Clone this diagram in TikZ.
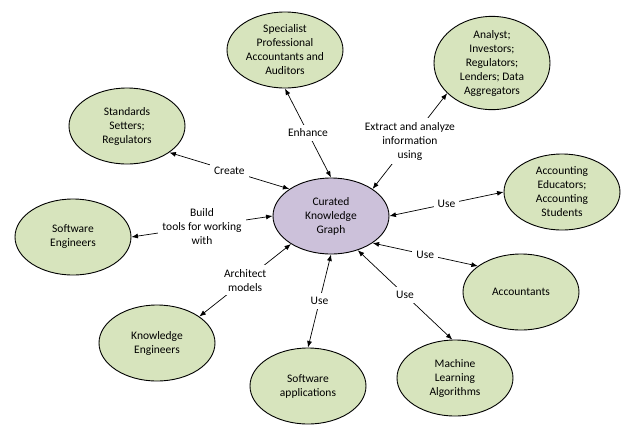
\documentclass[tikz,border=0pt]{standalone}
\usepackage{fontspec}
\setmainfont{Carlito}
\usetikzlibrary{shapes.geometric,arrows.meta}
\definecolor{grn}{HTML}{D7E4BD}
\definecolor{prp}{HTML}{CCC1DA}
\begin{document}
\begin{tikzpicture}[x=1pt,y=-1pt,
  every node/.style={font=\fontsize{11.5}{14}\selectfont, align=center},
  blob/.style={ellipse, draw=black, line width=0.9pt, fill=grn, minimum width=116pt, minimum height=76pt, inner sep=0pt},
  hub/.style={blob, fill=prp},
  conn/.style={{Latex[length=6.5pt,width=5pt]}-{Latex[length=6.5pt,width=5pt]}, line width=0.7pt},
  lbl/.style={fill=white, inner sep=4pt}]
\useasboundingbox (0,0) rectangle (633,440);
\node[hub] (c) at (331,216) {Curated\\Knowledge\\Graph};
\node[blob] (s) at (285,50) {Specialist\\Professional\\Accountants and\\Auditors};
\node[blob] (a) at (492,63) {Analyst;\\Investors;\\Regulators;\\Lenders; Data\\Aggregators};
\node[blob] (st) at (127,126) {Standards\\Setters;\\Regulators};
\node[blob] (se) at (73,237) {Software\\Engineers};
\node[blob] (ed) at (562,192) {Accounting\\Educators;\\Accounting\\Students};
\node[blob] (ac) at (521,292) {Accountants};
\node[blob] (ke) at (157,343) {Knowledge\\Engineers};
\node[blob] (sa) at (308,386) {Software\\applications};
\node[blob] (ml) at (455,378) {Machine\\Learning\\Algorithms};

\draw[conn] (s.270) -- node[lbl] {Enhance} (c.90);
\draw[conn] (a.214) -- node[lbl] {Extract and analyze\\information\\using} (c.33);
\draw[conn] (st.328) -- node[lbl] {Create} (c.147);
\draw[conn] (se.0) -- node[lbl] {Build\\tools for working\\with} (c.180);
\draw[conn] (ke.32) -- node[lbl] {Architect\\models} (c.215);
\draw[conn] (sa.90) -- node[lbl] {Use} (c.270);
\draw[conn] (ml.94) -- node[lbl] {Use} (c.308);
\draw[conn] (ac.149) -- node[lbl] {Use} (c.327);
\draw[conn] (ed.180) -- node[lbl] {Use} (c.0);
\end{tikzpicture}
\end{document}
